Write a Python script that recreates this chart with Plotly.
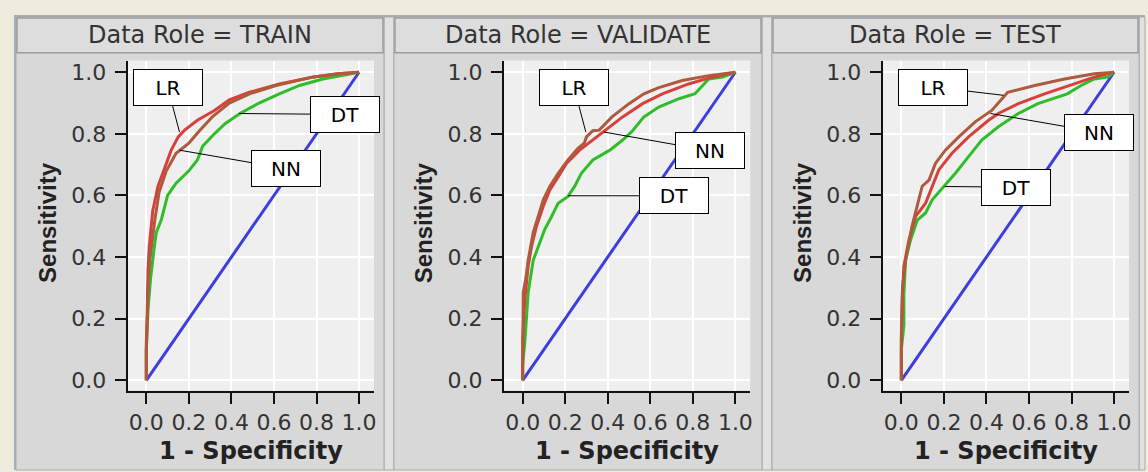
import plotly.graph_objects as go

# ROC curve data per data role: false positive rate (1 - specificity) and sensitivity
roles = ["TRAIN", "VALIDATE", "TEST"]

train_lr_fpr = [0, 0, 0.004, 0.006, 0.008, 0.014, 0.03, 0.055, 0.086, 0.117, 0.15, 0.18, 0.24, 0.32, 0.39, 0.485, 0.625, 0.78, 0.9, 1.0]
train_lr_tpr = [0, 0.12, 0.22, 0.30, 0.36, 0.435, 0.55, 0.63, 0.69, 0.747, 0.79, 0.812, 0.844, 0.876, 0.91, 0.935, 0.962, 0.984, 0.995, 1.0]
train_nn_fpr = [0, 0, 0.005, 0.008, 0.016, 0.028, 0.04, 0.06, 0.094, 0.14, 0.20, 0.25, 0.31, 0.39, 0.485, 0.61, 0.78, 0.9, 1.0]
train_nn_tpr = [0, 0.1, 0.2, 0.3, 0.39, 0.46, 0.52, 0.61, 0.68, 0.737, 0.77, 0.81, 0.855, 0.90, 0.93, 0.957, 0.984, 0.995, 1.0]
train_dt_fpr = [0, 0, 0.008, 0.02, 0.035, 0.047, 0.07, 0.10, 0.14, 0.20, 0.24, 0.265, 0.32, 0.37, 0.44, 0.53, 0.625, 0.72, 0.83, 0.92, 1.0]
train_dt_tpr = [0, 0.1, 0.23, 0.33, 0.42, 0.48, 0.52, 0.60, 0.64, 0.68, 0.715, 0.76, 0.80, 0.833, 0.866, 0.90, 0.93, 0.957, 0.978, 0.99, 1.0]

valid_lr_fpr = [0, 0, 0.01, 0.026, 0.042, 0.065, 0.097, 0.128, 0.167, 0.206, 0.268, 0.33, 0.39, 0.47, 0.564, 0.657, 0.78, 0.89, 1.0]
valid_lr_tpr = [0, 0.134, 0.26, 0.37, 0.435, 0.5, 0.565, 0.618, 0.66, 0.704, 0.747, 0.78, 0.81, 0.855, 0.898, 0.93, 0.962, 0.984, 1.0]
valid_nn_fpr = [0, 0, 0.003, 0.015, 0.026, 0.05, 0.073, 0.097, 0.128, 0.167, 0.213, 0.26, 0.29, 0.30, 0.33, 0.36, 0.42, 0.50, 0.57, 0.64, 0.75, 0.875, 1.0]
valid_nn_tpr = [0, 0.15, 0.285, 0.33, 0.39, 0.48, 0.53, 0.586, 0.63, 0.672, 0.715, 0.753, 0.77, 0.79, 0.81, 0.812, 0.855, 0.898, 0.93, 0.950, 0.973, 0.989, 1.0]
valid_dt_fpr = [0, 0, 0.01, 0.026, 0.05, 0.073, 0.104, 0.135, 0.167, 0.213, 0.245, 0.276, 0.33, 0.41, 0.47, 0.517, 0.57, 0.64, 0.735, 0.81, 0.845, 0.875, 0.94, 1.0]
valid_dt_tpr = [0, 0.05, 0.12, 0.285, 0.39, 0.435, 0.49, 0.53, 0.575, 0.597, 0.63, 0.672, 0.715, 0.747, 0.78, 0.81, 0.855, 0.887, 0.914, 0.93, 0.957, 0.978, 0.984, 1.0]

test_lr_fpr = [0, 0, 0.005, 0.012, 0.036, 0.067, 0.114, 0.145, 0.176, 0.238, 0.316, 0.41, 0.456, 0.55, 0.673, 0.813, 0.907, 1.0]
test_lr_tpr = [0, 0.15, 0.28, 0.37, 0.457, 0.532, 0.575, 0.63, 0.683, 0.737, 0.79, 0.844, 0.866, 0.898, 0.93, 0.962, 0.984, 1.0]
test_nn_fpr = [0, 0, 0.005, 0.02, 0.05, 0.075, 0.098, 0.13, 0.16, 0.207, 0.27, 0.347, 0.425, 0.50, 0.627, 0.767, 0.907, 1.0]
test_nn_tpr = [0, 0.12, 0.3, 0.39, 0.5, 0.565, 0.63, 0.65, 0.704, 0.747, 0.79, 0.839, 0.876, 0.935, 0.957, 0.978, 0.995, 1.0]
test_dt_fpr = [0, 0, 0.012, 0.012, 0.02, 0.044, 0.075, 0.114, 0.145, 0.2, 0.254, 0.316, 0.378, 0.456, 0.55, 0.642, 0.78, 0.845, 0.907, 0.97, 1.0]
test_dt_tpr = [0, 0.1, 0.18, 0.28, 0.39, 0.457, 0.52, 0.543, 0.586, 0.63, 0.672, 0.726, 0.78, 0.823, 0.866, 0.898, 0.93, 0.957, 0.978, 0.984, 1.0]

baseline = [0, 1]
tick_vals = [0.0, 0.2, 0.4, 0.6, 0.8, 1.0]
tick_text = ["0.0", "0.2", "0.4", "0.6", "0.8", "1.0"]

curves = {
    "TRAIN": {"DT": (train_dt_fpr, train_dt_tpr), "LR": (train_lr_fpr, train_lr_tpr), "NN": (train_nn_fpr, train_nn_tpr)},
    "VALIDATE": {"DT": (valid_dt_fpr, valid_dt_tpr), "LR": (valid_lr_fpr, valid_lr_tpr), "NN": (valid_nn_fpr, valid_nn_tpr)},
    "TEST": {"DT": (test_dt_fpr, test_dt_tpr), "LR": (test_lr_fpr, test_lr_tpr), "NN": (test_nn_fpr, test_nn_tpr)},
}

# label boxes: (model, box centre x, box centre y, curve point x, curve point y) in data units
labels = {
    "TRAIN": [("LR", 0.100, 0.952, 0.156, 0.806), ("DT", 0.935, 0.863, 0.437, 0.866), ("NN", 0.656, 0.687, 0.156, 0.747)],
    "VALIDATE": [("LR", 0.241, 0.952, 0.297, 0.806), ("NN", 0.880, 0.745, 0.381, 0.806), ("DT", 0.713, 0.599, 0.214, 0.599)],
    "TEST": [("LR", 0.148, 0.952, 0.481, 0.925), ("NN", 0.927, 0.805, 0.419, 0.866), ("DT", 0.538, 0.627, 0.204, 0.629)],
}

colors = {"LR": "#d8403a", "NN": "#ad5a3e", "DT": "#2fbd2a"}
base_color = "#3d3de0"

W, H = 1148, 472
def px(x):
    return x / W
def py(y):
    return 1 - y / H

panel_off = [0, 377.3, 757]
plot_left, plot_right, plot_top, plot_bottom = 128, 375, 60, 392
xrange_ = [-0.0877, 1.0703]
yrange_ = [-0.0332, 1.0377]

fig = go.Figure()
shapes = []
annotations = []

# outer frame lines
shapes.append(dict(type="line", xref="paper", yref="paper", x0=px(14), x1=1, y0=py(15), y1=py(15),
                   line=dict(color="#9eb0c2", width=2), layer="below"))
shapes.append(dict(type="line", xref="paper", yref="paper", x0=px(15), x1=px(15), y0=0, y1=py(15),
                   line=dict(color="#9eb0c2", width=2), layer="below"))

panel_edges = [(16, 385), (395, 764), (774, 1142)]
for (a, b) in [(385, 395), (764, 774), (1142, 1148)]:
    shapes.append(dict(type="rect", xref="paper", yref="paper", x0=px(a), x1=px(b), y0=0, y1=py(16),
                       fillcolor="#e1e1e1", line=dict(color="#a9a9a9", width=1), layer="below"))

for i, role in enumerate(roles):
    a, b = panel_edges[i]
    off = panel_off[i]
    # panel body and header strip
    shapes.append(dict(type="rect", xref="paper", yref="paper", x0=px(a), x1=px(b), y0=0, y1=py(16),
                       fillcolor="#d8d8d8", line=dict(color="#a9a9a9", width=1), layer="below"))
    shapes.append(dict(type="rect", xref="paper", yref="paper", x0=px(a + 1), x1=px(b - 1), y0=py(52), y1=py(17),
                       fillcolor="#dddddd", line=dict(color="#9c9c9c", width=1.5), layer="below"))
    # plot area
    shapes.append(dict(type="rect", xref="paper", yref="paper", x0=px(plot_left + off), x1=px(plot_right + off),
                       y0=py(plot_bottom), y1=py(plot_top), fillcolor="#efefef", line=dict(width=0), layer="below"))

    annotations.append(dict(text=f"Data Role = {role}", xref="paper", yref="paper",
                            x=px((a + b) / 2), y=py(34), xanchor="center", yanchor="middle", showarrow=False,
                            font=dict(family="DejaVu Sans", size=24, color="#333333")))
    annotations.append(dict(text="1 - Specificity", xref="paper", yref="paper",
                            x=px((plot_left + plot_right) / 2 + off), y=py(453), xanchor="center", yanchor="middle",
                            showarrow=False, font=dict(family="DejaVu Sans", size=24, color="#222222", weight="bold")))
    annotations.append(dict(text="Sensitivity", xref="paper", yref="paper", textangle=-90,
                            x=px(47.5 + off), y=py(223), xanchor="center", yanchor="middle",
                            showarrow=False, font=dict(family="Liberation Sans", size=24, color="#222222", weight="bold")))

    suffix = "" if i == 0 else str(i + 1)
    xa, ya = "x" + suffix, "y" + suffix
    axis_common = dict(showgrid=True, gridcolor="#ffffff", gridwidth=2, zeroline=False,
                       showline=True, linecolor="#111111", linewidth=2,
                       ticks="outside", ticklen=11, tickwidth=2, tickcolor="#111111",
                       tickvals=tick_vals, ticktext=tick_text, fixedrange=True,
                       tickfont=dict(family="DejaVu Sans", size=22, color="#333333"))
    fig.update_layout(**{
        "xaxis" + suffix: dict(axis_common, domain=[px(plot_left + off), px(plot_right + off)],
                               range=xrange_, anchor=ya),
        "yaxis" + suffix: dict(axis_common, domain=[py(plot_bottom), py(plot_top)],
                               range=yrange_, anchor=xa, ticklabelstandoff=4),
    })

    fig.add_trace(go.Scatter(x=baseline, y=baseline, mode="lines", xaxis=xa, yaxis=ya,
                             line=dict(color=base_color, width=3), showlegend=False, hoverinfo="skip"))
    for model in ["DT", "LR", "NN"]:
        fx, ty = curves[role][model]
        fig.add_trace(go.Scatter(x=fx, y=ty, mode="lines", xaxis=xa, yaxis=ya, name=model,
                                 line=dict(color=colors[model], width=3), showlegend=False))

    for model, bx, by, cx, cy in labels[role]:
        annotations.append(dict(text=model, x=cx, y=cy, xref=xa, yref=ya, axref=xa, ayref=ya, ax=bx, ay=by,
                                showarrow=True, arrowhead=0, arrowwidth=1, arrowcolor="#000000", standoff=0,
                                bgcolor="#ffffff", bordercolor="#000000", borderwidth=1, borderpad=1,
                                width=66, height=33, align="center", valign="middle",
                                font=dict(family="DejaVu Sans", size=20, color="#000000")))

fig.update_layout(width=W, height=H, margin=dict(l=0, r=0, t=0, b=0),
                  paper_bgcolor="#efebdd", plot_bgcolor="#efefef",
                  shapes=shapes, annotations=annotations, showlegend=False)

fig.write_html("out.html")
